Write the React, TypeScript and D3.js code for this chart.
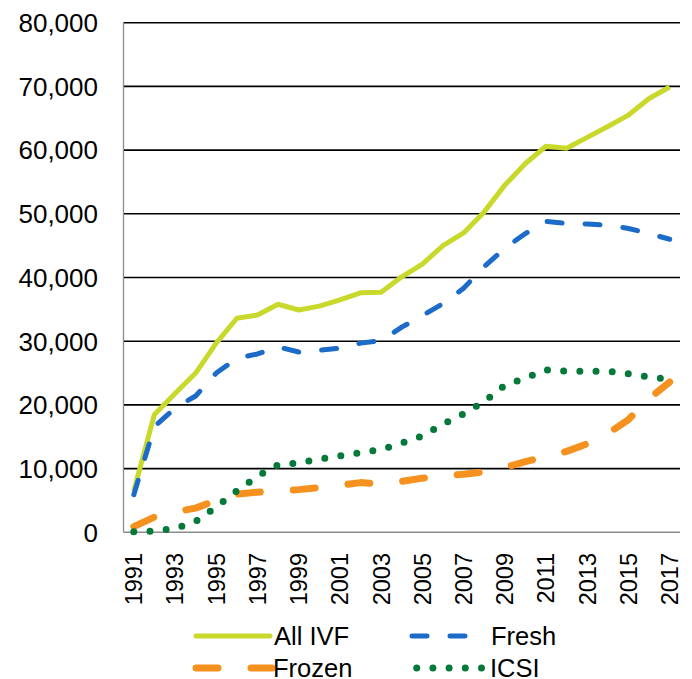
import React from "react";
import * as d3 from "d3";

const years = [
  1991, 1992, 1993, 1994, 1995, 1996, 1997, 1998, 1999, 2000, 2001, 2002, 2003, 2004,
  2005, 2006, 2007, 2008, 2009, 2010, 2011, 2012, 2013, 2014, 2015, 2016, 2017,
];
const allIVF = [
  6500, 18500, 21800, 25000, 29700, 33600, 34100, 35800, 34900, 35500, 36500, 37600, 37700, 40100,
  42100, 45000, 47000, 50300, 54500, 57900, 60600, 60300, 62000, 63700, 65500, 68100, 69900,
];
const fresh = [
  5900, 16600, 19500, 21400, 25000, 27300, 28000, 29100, 28300, 28600, 28900, 29700, 30100, 32200,
  34000, 35900, 38300, 41700, 44600, 46900, 48800, 48500, 48400, 48200, 47700, 46900, 46000,
];
const frozen = [
  900, 2400, 3200, 3800, 5000, 6000, 6300, 6500, 6700, 7000, 7400, 7800, 7600, 8000,
  8500, 8900, 9100, 9500, 10200, 11100, 11900, 12700, 13900, 15500, 17700, 21000, 23600,
];
const icsi = [
  100, 200, 600, 1700, 4000, 6500, 8800, 10600, 10900, 11500, 12000, 12500, 13000, 14000,
  15100, 17000, 18600, 20500, 23100, 24200, 25500, 25300, 25300, 25300, 24900, 24400, 24000,
];
const yTicks = [0, 10000, 20000, 30000, 40000, 50000, 60000, 70000, 80000];
const xTickYears = years.filter((y) => (y - 1991) % 2 === 0);

const seriesNames = ["All IVF", "Fresh", "Frozen", "ICSI"];

const styles: Record<string, { color: string; width: number; dash?: string }> = {
  "All IVF": { color: "#C8D92B", width: 5 },
  Fresh: { color: "#1C6BC8", width: 5, dash: "15 23" },
  Frozen: { color: "#F5921F", width: 7, dash: "22 33" },
  ICSI: { color: "#04793A", width: 7, dash: "0 16.2" },
};

export default function App() {
  const W = 692;
  const H = 679;
  const left = 123.5;
  const right = 680;
  const top = 22.7;
  const bottom = 532.3;
  const font = "'Liberation Sans', Arial, Helvetica, sans-serif";

  const x = d3
    .scaleBand<number>()
    .domain(years)
    .range([left, right])
    .paddingInner(0)
    .paddingOuter(0);
  const cx = (yr: number) => (x(yr) as number) + x.bandwidth() / 2;
  const y = d3.scaleLinear().domain([0, 80000]).range([bottom, top]);

  const dataMap: Record<string, number[]> = {
    "All IVF": allIVF,
    Fresh: fresh,
    Frozen: frozen,
    ICSI: icsi,
  };

  const line = d3
    .line<number>()
    .x((_, i) => cx(years[i]))
    .y((v) => y(v))
    .curve(d3.curveLinear);

  const fmt = d3.format(",");
  const drawOrder = ["All IVF", "Fresh", "Frozen", "ICSI"];

  const legendItems = [
    { name: "All IVF", x0: 196, x1: 270, tx: 274, y: 636 },
    { name: "Fresh", x0: 412, x1: 488, tx: 491, y: 636 },
    { name: "Frozen", x0: 196, x1: 272, tx: 273, y: 668 },
    { name: "ICSI", x0: 416.7, x1: 485, tx: 490, y: 668 },
  ];

  return (
    <svg
      width={W}
      height={H}
      style={{ position: "absolute", left: 0, top: 0, background: "#fff" }}
    >
      <rect x={0} y={0} width={W} height={H} fill="#fff" />
      {yTicks.map((t) => (
        <g key={t}>
          {t > 0 && (
            <line x1={left} x2={right} y1={y(t)} y2={y(t)} stroke="#000" strokeWidth={1.6} />
          )}
          <text
            x={98}
            y={y(t)}
            dy="0.36em"
            textAnchor="end"
            fontFamily={font}
            fontSize={26}
            fill="#000"
          >
            {fmt(t)}
          </text>
        </g>
      ))}
      <line x1={left} x2={left} y1={top} y2={bottom} stroke="#8c8c8c" strokeWidth={1.3} />
      <line x1={left} x2={right} y1={bottom} y2={bottom} stroke="#8c8c8c" strokeWidth={1.6} />
      {xTickYears.map((yr) => (
        <text
          key={yr}
          transform={`translate(${cx(yr)},553) rotate(-90)`}
          dy="0.36em"
          textAnchor="end"
          fontFamily={font}
          fontSize={23.5}
          fill="#000"
        >
          {yr}
        </text>
      ))}
      {drawOrder.map((name) => {
        const s = styles[name];
        return (
          <path
            key={name}
            d={line(dataMap[name]) || ""}
            fill="none"
            stroke={s.color}
            strokeWidth={s.width}
            strokeDasharray={s.dash}
            strokeLinecap={s.dash ? "round" : "butt"}
            strokeLinejoin="round"
          />
        );
      })}
      {legendItems.map((it) => {
        const s = styles[it.name];
        return (
          <g key={it.name}>
            <line
              x1={it.x0}
              x2={it.x1}
              y1={it.y}
              y2={it.y}
              stroke={s.color}
              strokeWidth={s.width}
              strokeDasharray={s.dash}
              strokeLinecap="round"
            />
            <text
              x={it.tx}
              y={it.y}
              dy="0.36em"
              fontFamily={font}
              fontSize={25.5}
              fill="#000"
            >
              {it.name}
            </text>
          </g>
        );
      })}
    </svg>
  );
}
